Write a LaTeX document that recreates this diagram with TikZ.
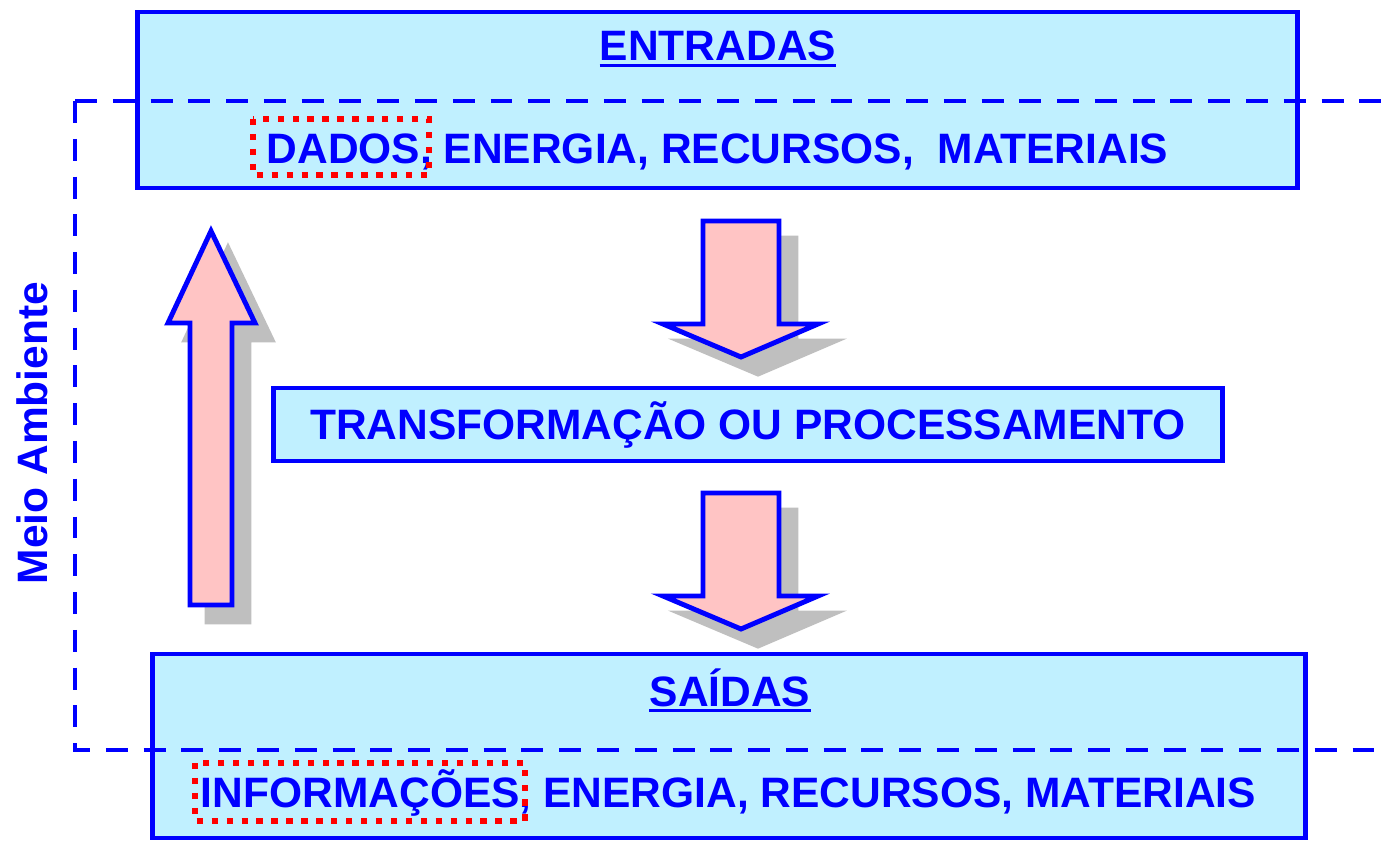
\documentclass[tikz,border=0pt]{standalone}
\usepackage{fontspec}
\setmainfont{Liberation Sans}
\usetikzlibrary{positioning}
\definecolor{boxcyan}{RGB}{192,240,255}
\definecolor{arrowpink}{RGB}{255,196,196}
\definecolor{shadowgray}{RGB}{191,191,191}

\begin{document}
\begin{tikzpicture}[x=0.02cm, y=-0.02cm,
  box/.style={draw=blue, line width=2.8pt, fill=boxcyan, inner sep=0pt},
  bluetext/.style={text=blue, font=\bfseries\fontsize{24.2}{29}\selectfont, inner sep=0pt},
  uline/.style={blue, line width=1.7pt},
  envline/.style={blue, line width=2.3pt, dash pattern=on 12.5pt off 9pt},
  redmark/.style={red, line width=3.6pt, dash pattern=on 3.6pt off 4.9pt},
  blockarrow/.style={draw=blue, line width=2.8pt, fill=arrowpink},
  arrowshadow/.style={draw=shadowgray, line width=2.8pt, fill=shadowgray}]
\useasboundingbox (0,0) rectangle (1381,841);

% caixas
\node (entradas) [box, minimum width=23.22cm, minimum height=3.52cm] at (717.5,100) {};
\node (proc) [box, bluetext, minimum width=19cm, minimum height=1.46cm, text height=17.3pt, text depth=0pt]
  at (748,424.5) {TRANSFORMAÇÃO OU PROCESSAMENTO};
\node (saidas) [box, minimum width=23.08cm, minimum height=3.68cm] at (729,746) {};

% textos
\node (tin) [bluetext, anchor=base] at (718,61) {ENTRADAS};
\draw[uline] ([yshift=-2.8pt]tin.base west) -- ([yshift=-2.8pt]tin.base east);
\node (inlist) [bluetext, anchor=base] at (717.5,164) {DADOS, ENERGIA, RECURSOS, \ MATERIAIS};
\node (tout) [bluetext, anchor=base] at (730,706) {SAÍDAS};
\draw[uline] ([yshift=-2.8pt]tout.base west) -- ([yshift=-2.8pt]tout.base east);
\node (outlist) [bluetext, anchor=base] at (728.5,807) {INFORMAÇÕES, ENERGIA, RECURSOS, MATERIAIS};
\node (meio) [bluetext, rotate=90, anchor=base] at (47,433) {Meio Ambiente};

% destaques
\draw[redmark] (253,119) rectangle (429,175);
\draw[redmark] (195,763) rectangle (525,821);

% setas
\draw[arrowshadow, shift={(17,17)}] (190,605) -- (190,323) -- (168,323) -- (211,231)
  -- (255,323) -- (232,323) -- (232,605) -- cycle;
\draw[blockarrow] (190,605) -- (190,323) -- (168,323) -- (211,231)
  -- (255,323) -- (232,323) -- (232,605) -- cycle;
\foreach \dy in {0,272} {
  \draw[arrowshadow, shift={(17,17+\dy)}] (703,221) -- (779,221) -- (779,324) -- (818,324)
    -- (741,357) -- (663,324) -- (703,324) -- cycle;
  \draw[blockarrow, shift={(0,\dy)}] (703,221) -- (779,221) -- (779,324) -- (818,324)
    -- (741,357) -- (663,324) -- (703,324) -- cycle;
}

% meio ambiente
\draw[envline] (75,101) -- (1400,101);
\draw[envline] (75,101) -- (75,750) -- (1400,750);
\end{tikzpicture}
\end{document}
